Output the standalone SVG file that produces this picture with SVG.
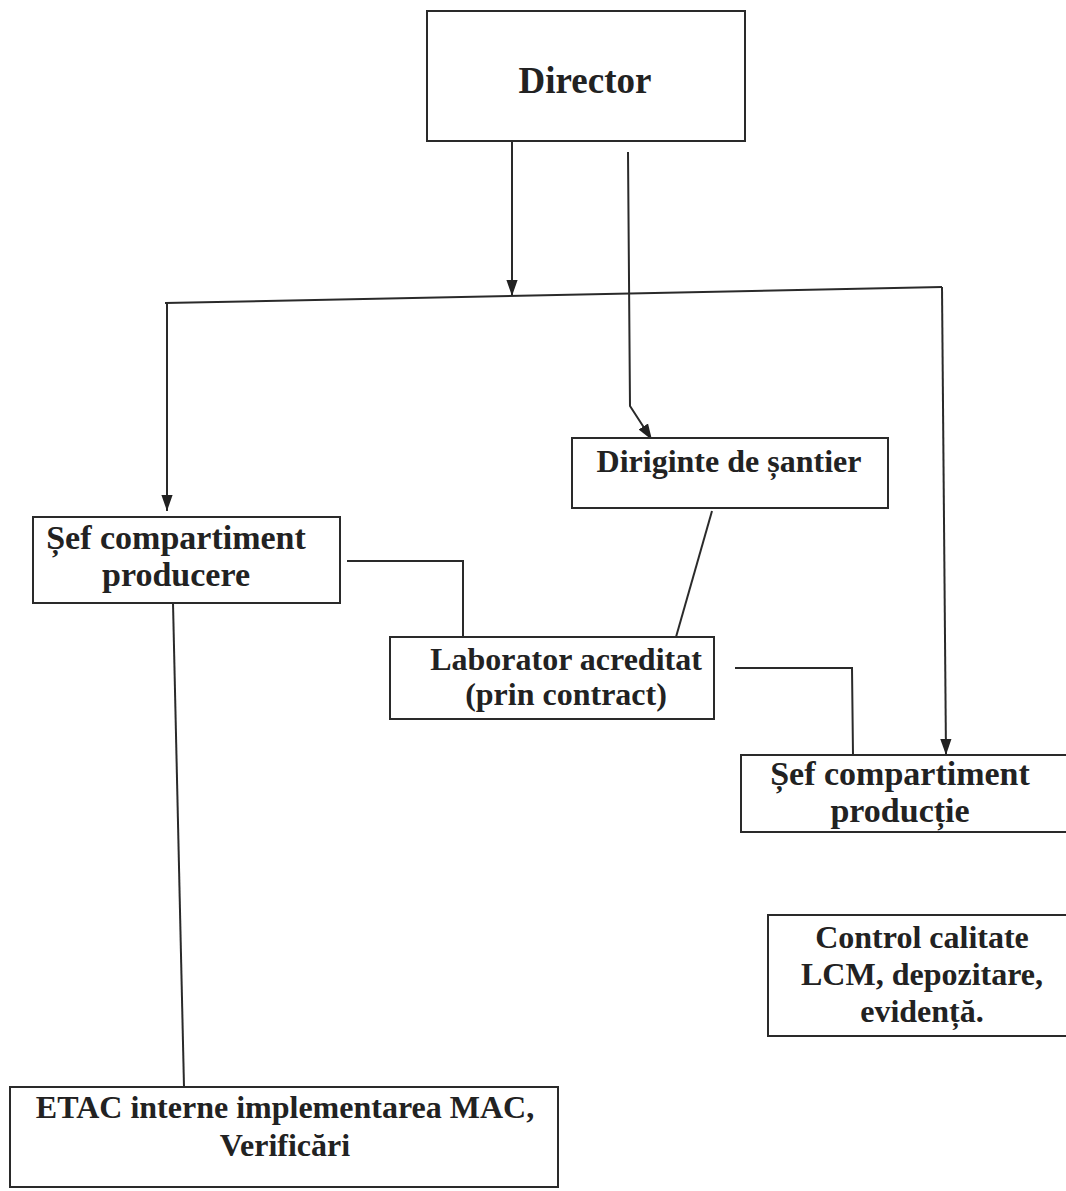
<svg xmlns="http://www.w3.org/2000/svg" width="1066" height="1191" viewBox="0 0 1066 1191">
<style>
.box{fill:#fff;stroke:#2a2a2a;stroke-width:2}
.t{font-family:"Liberation Serif","Times New Roman",serif;font-weight:bold;fill:#222;text-anchor:middle;font-size:32px}
.s{font-size:34px}
.c{fill:none;stroke:#2a2a2a;stroke-width:2}
</style>
<defs>
<marker id="ah2" viewBox="0 0 10 10" refX="10" refY="5" markerWidth="16" markerHeight="16" markerUnits="userSpaceOnUse" orient="auto">
<path d="M0,1.5 L10,5 L0,8.5 z" fill="#222"/>
</marker>
</defs>
<rect width="1066" height="1191" fill="#fff"/>
<g id="connectors">
<line class="c" x1="512" y1="141" x2="512" y2="296" marker-end="url(#ah2)"/>
<polyline class="c" points="628,152 630,406 652,440" marker-end="url(#ah2)"/>
<line class="c" x1="165" y1="303" x2="942" y2="287"/>
<line class="c" x1="167" y1="303" x2="167" y2="511" marker-end="url(#ah2)"/>
<line class="c" x1="942" y1="287" x2="946" y2="755" marker-end="url(#ah2)"/>
<polyline class="c" points="347,561 463,561 463,637"/>
<line class="c" x1="712" y1="511" x2="676" y2="637"/>
<polyline class="c" points="735,668 852,668 853,755"/>
<line class="c" x1="173" y1="603" x2="184" y2="1087"/>
</g>
<g id="director">
<rect class="box" x="427" y="11" width="318" height="130"/>
<text class="t" x="585" y="93" style="font-size:37px">Director</text>
</g>
<g id="diriginte">
<rect class="box" x="572" y="438" width="316" height="70"/>
<text class="t" x="729" y="472">Diriginte de șantier</text>
</g>
<g id="sef-producere">
<rect class="box" x="33" y="517" width="307" height="86"/>
<text class="t s" x="176" y="549">Șef compartiment</text>
<text class="t s" x="176" y="586">producere</text>
</g>
<g id="laborator">
<rect class="box" x="390" y="637" width="324" height="82"/>
<text class="t" x="566" y="670">Laborator acreditat</text>
<text class="t" x="566" y="705">(prin contract)</text>
</g>
<g id="sef-productie">
<rect class="box" x="741" y="755" width="340" height="77"/>
<text class="t s" x="900" y="785">Șef compartiment</text>
<text class="t s" x="900" y="822">producție</text>
</g>
<g id="control">
<rect class="box" x="768" y="915" width="310" height="121"/>
<text class="t" x="922" y="948">Control calitate</text>
<text class="t" x="922" y="985">LCM, depozitare,</text>
<text class="t" x="922" y="1022">evidență.</text>
</g>
<g id="etac">
<rect class="box" x="10" y="1087" width="548" height="100"/>
<text class="t" x="285" y="1118">ETAC interne implementarea MAC,</text>
<text class="t" x="285" y="1156">Verificări</text>
</g>
</svg>
